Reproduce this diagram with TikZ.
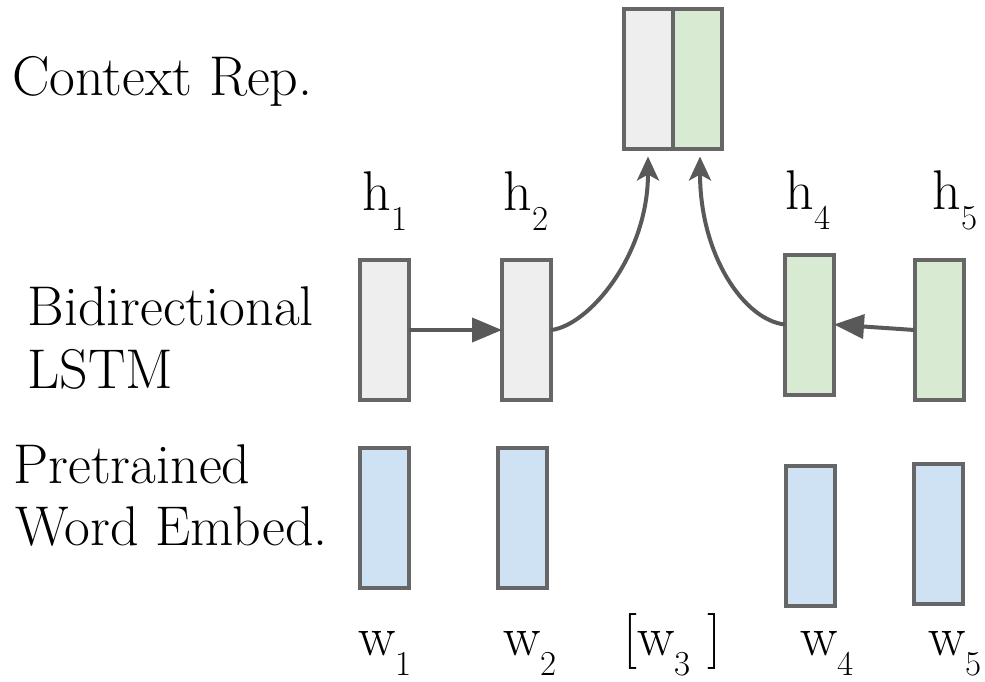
\documentclass[tikz,border=0pt]{standalone}
\usepackage{tikz}
\usetikzlibrary {positioning}
\usetikzlibrary {arrows.meta}

\definecolor{boxline}{HTML}{666666}
\definecolor{arrowgray}{HTML}{595959}
\definecolor{fwdfill}{HTML}{EEEEEE}
\definecolor{bwdfill}{HTML}{D9EAD3}
\definecolor{embfill}{HTML}{CFE2F3}
\newcommand{\lab}[2]{#1\raisebox{-10pt}{\fontsize{17.5}{17.5}\selectfont #2}}

\begin{document}
\begin{tikzpicture}[x=0.5pt,y=-0.5pt,
  cell/.style={rectangle, draw=boxline, line width=2pt, inner sep=0pt, outer sep=0pt,
    minimum width=24.5pt, minimum height=70pt},
  txt/.style={anchor=base west, inner sep=0pt, font=\fontsize{28}{34}\selectfont},
  flow/.style={draw=arrowgray, line width=2pt}]
\useasboundingbox (0,0) rectangle (985,681);

%row names
\node [txt] (ctxname) at (12,95) {Context Rep.};
\node [txt] (lstmname) at (27,325) {Bidirectional};
\node [txt] (lstmname2) at (27,388) {LSTM};
\node [txt] (embname) at (13,483) {Pretrained};
\node [txt] (embname2) at (15,545) {Word Embed.};

%context
\node [cell, fill=fwdfill] (ctxL) at (648,78.5) {};
\node [cell, fill=bwdfill, right=0pt of ctxL] (ctxR) {};

%lstm
\node [cell, fill=fwdfill] (h1) at (384.5,330) {};
\node [cell, fill=fwdfill] (h2) at (526.5,330) {};
\node [cell, fill=bwdfill] (h4) at (809.5,324.5) {};
\node [cell, fill=bwdfill] (h5) at (939,330) {};

\node [txt] (h1lab) at (362,210) {\lab{h}{1}};
\node [txt] (h2lab) at (503,210) {\lab{h}{2}};
\node [txt] (h4lab) at (785,209) {\lab{h}{4}};
\node [txt] (h5lab) at (932,209) {\lab{h}{5}};

%embeddings
\node [cell, fill=embfill] (w1) at (384,517.5) {};
\node [cell, fill=embfill] (w2) at (522.5,517.5) {};
\node [cell, fill=embfill] (w4) at (810,536) {};
\node [cell, fill=embfill] (w5) at (938.5,534) {};

\node [txt] (w1lab) at (358,655) {\lab{w}{1}};
\node [txt] (w2lab) at (503,655) {\lab{w}{2}};
\node [txt] (w3lab) at (623,655) {[\lab{w}{3} ]};
\node [txt] (w4lab) at (800,655) {\lab{w}{4}};
\node [txt] (w5lab) at (928,655) {\lab{w}{5}};

%arrows
\draw [flow, -{Triangle[length=15pt,width=12pt]}] (h1.east) -- (h2.west);
\draw [flow, -{Triangle[length=15pt,width=12pt]}] (h5.west) -- (h4.east);
\draw [flow, -{Stealth[length=12pt,width=11pt,inset=3pt]}] (h2.east)
  .. controls +(37,-4) and +(0,100) .. ([yshift=-4pt]ctxL.south);
\draw [flow, -{Stealth[length=12pt,width=11pt,inset=3pt]}] (h4.west)
  .. controls +(-40,-4) and +(0,100) .. ([xshift=1.5pt,yshift=-4pt]ctxR.south);

\end{tikzpicture}
\end{document}
